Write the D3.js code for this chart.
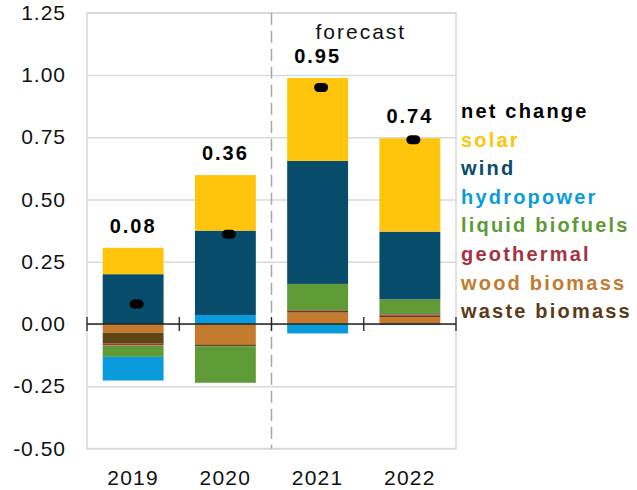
<!DOCTYPE html>
<html>
<head>
<meta charset="utf-8">
<script src="https://cdn.jsdelivr.net/npm/d3@7"></script>
<style>
  html, body { margin: 0; padding: 0; background: #fff; }
  svg { display: block; font-family: "Liberation Sans", Arial, sans-serif; }
</style>
</head>
<body>
<svg id="chart" width="637" height="490"></svg>
<script>
// Annual change in renewable energy consumption by source (stacked), with net change
const years = ["2019", "2020", "2021", "2022"];
const seriesKeys = ["wood", "waste", "geothermal", "liquid", "hydro", "wind", "solar"];
const wood       = [-0.035, -0.082, 0.046, 0.028];
const waste      = [-0.044, -0.008, 0.008, 0.005];
const geothermal = [-0.007,  0.000, 0.002, 0.006];
const liquid     = [-0.046, -0.146, 0.105, 0.060];
const hydro      = [-0.095,  0.036, -0.038, -0.004];
const wind       = [ 0.200,  0.339, 0.494, 0.272];
const solar      = [ 0.106,  0.223, 0.333, 0.375];
const netChange  = [0.08, 0.36, 0.95, 0.74];
const yTicks = [-0.5, -0.25, 0, 0.25, 0.5, 0.75, 1.0, 1.25];
const legendLabels = ["net change", "solar", "wind", "hydropower", "liquid biofuels", "geothermal", "wood biomass", "waste biomass"];
const forecastLabel = "forecast";

const colors = {
  solar: "#FFC40C",
  wind: "#084C6B",
  hydro: "#0A9BDC",
  liquid: "#5E9A35",
  geothermal: "#A6323F",
  wood: "#C47A2F",
  waste: "#5E4512",
  net: "#000000"
};
const legendColors = [colors.net, colors.solar, colors.wind, colors.hydro, colors.liquid, colors.geothermal, colors.wood, "#5A3A17"];

const valuesByKey = { wood, waste, geothermal, liquid, hydro, wind, solar };
const rows = years.map((yr, i) => {
  const r = { year: yr };
  seriesKeys.forEach(k => r[k] = valuesByKey[k][i]);
  return r;
});

const svg = d3.select("#chart");
const plotLeft = 87, plotRight = 456, plotTop = 12.75, plotBottom = 448.5;

const x = d3.scaleBand().domain(years).range([plotLeft, plotRight]).paddingInner(0.34).paddingOuter(0.17);
const y = d3.scaleLinear().domain([-0.5, 1.25]).range([plotBottom, plotTop]);

// gridlines
svg.append("g")
  .attr("transform", `translate(${plotLeft},0)`)
  .call(d3.axisLeft(y).tickValues(yTicks).tickSize(-(plotRight - plotLeft)).tickFormat(""))
  .call(g => g.select(".domain").remove())
  .call(g => g.selectAll("line").attr("stroke", "#d9d9d9").attr("stroke-width", 1.5));

// plot frame
svg.append("rect")
  .attr("x", plotLeft).attr("y", plotTop)
  .attr("width", plotRight - plotLeft).attr("height", plotBottom - plotTop)
  .attr("fill", "none").attr("stroke", "#d9d9d9").attr("stroke-width", 1.5);

// y tick labels (plain hyphen for negatives)
svg.append("g")
  .attr("transform", `translate(${plotLeft},0)`)
  .call(d3.axisLeft(y).tickValues(yTicks).tickSize(0).tickPadding(21).tickFormat(d => d.toFixed(2)))
  .call(g => g.select(".domain").remove())
  .call(g => g.selectAll("text")
    .attr("font-size", 21).attr("fill", "#111").attr("letter-spacing", "1px")
    .attr("font-family", "Liberation Sans, Arial, sans-serif"));

// stacked bars
const stack = d3.stack().keys(seriesKeys).offset(d3.stackOffsetDiverging);
const layers = stack(rows);
svg.append("g").selectAll("g")
  .data(layers)
  .join("g")
  .attr("fill", d => colors[d.key])
  .selectAll("rect")
  .data(d => d)
  .join("rect")
  .attr("x", d => x(d.data.year))
  .attr("width", x.bandwidth())
  .attr("y", d => y(Math.max(d[0], d[1])))
  .attr("height", d => Math.abs(y(d[0]) - y(d[1])));

// forecast divider
const step = x.step();
const divX = x("2021") - step * x.paddingInner() / 2;
svg.append("line")
  .attr("x1", divX).attr("x2", divX)
  .attr("y1", plotTop).attr("y2", plotBottom)
  .attr("stroke", "#a6a6a6").attr("stroke-width", 1.5)
  .attr("stroke-dasharray", "12,6");

svg.append("text")
  .attr("x", divX + 44).attr("y", 39)
  .attr("font-size", 21).attr("letter-spacing", "2px")
  .attr("fill", "#111")
  .text(forecastLabel);

// zero axis with category boundary ticks
const zeroY = y(0);
svg.append("line")
  .attr("x1", plotLeft).attr("x2", plotRight)
  .attr("y1", zeroY).attr("y2", zeroY)
  .attr("stroke", "#222").attr("stroke-width", 1.3);
const boundaries = years.map(d => x(d) - step * x.paddingInner() / 2).concat([plotRight]);
boundaries[0] = plotLeft;
svg.append("g").selectAll("line")
  .data(boundaries)
  .join("line")
  .attr("x1", d => d).attr("x2", d => d)
  .attr("y1", zeroY - 7).attr("y2", zeroY + 7)
  .attr("stroke", "#222").attr("stroke-width", 1.3);

// x labels
svg.append("g").selectAll("text")
  .data(years)
  .join("text")
  .attr("x", d => x(d) + x.bandwidth() / 2)
  .attr("y", 485)
  .attr("text-anchor", "middle")
  .attr("font-size", 21).attr("letter-spacing", "1.3px")
  .attr("fill", "#111")
  .text(d => d);

// net change markers
svg.append("g").selectAll("rect")
  .data(years)
  .join("rect")
  .attr("x", (d) => x(d) + x.bandwidth() / 2 + 3.5 - 7)
  .attr("y", (d, i) => y(netChange[i]) - 4.5)
  .attr("width", 14).attr("height", 9)
  .attr("rx", 4.5).attr("ry", 4.5)
  .attr("fill", colors.net);

// net change value labels above each bar
const barTops = rows.map(r => seriesKeys.reduce((s, k) => s + Math.max(0, r[k]), 0));
svg.append("g").selectAll("text")
  .data(years)
  .join("text")
  .attr("x", d => x(d) + x.bandwidth() / 2)
  .attr("y", (d, i) => y(barTops[i]) - 15)
  .attr("text-anchor", "middle")
  .attr("font-size", 20).attr("font-weight", "bold").attr("letter-spacing", "2px")
  .attr("fill", "#000")
  .text((d, i) => d3.format(".2f")(netChange[i]));

// legend
svg.append("g").selectAll("text")
  .data(legendLabels)
  .join("text")
  .attr("x", 461)
  .attr("y", (d, i) => 118 + i * 28.6)
  .attr("font-size", 20).attr("font-weight", "bold").attr("letter-spacing", "2.2px")
  .attr("fill", (d, i) => legendColors[i])
  .text(d => d);
</script>
</body>
</html>
